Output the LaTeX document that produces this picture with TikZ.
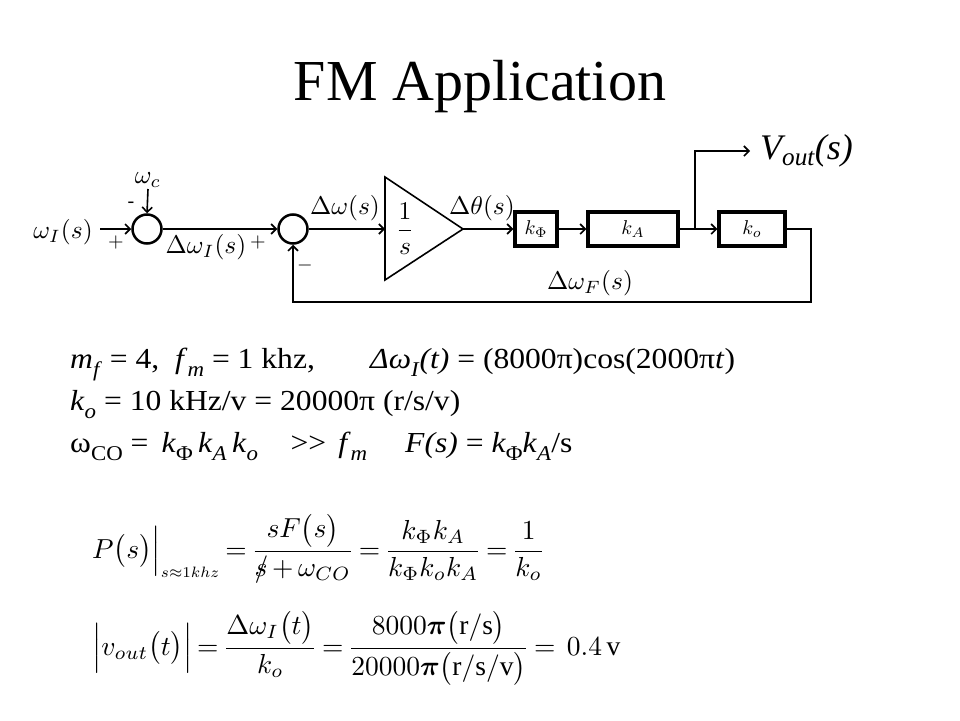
\documentclass[tikz,border=0pt]{standalone}
\usepackage{amsmath}
\usepackage{fontspec}
\setmainfont{Liberation Serif}
\usetikzlibrary{arrows.meta}

\newcommand{\blk}[1]{\scalebox{2.55}{#1}}
\newcommand{\boxlbl}[1]{\scalebox{2.0}{#1}}
\newcommand{\eqbig}[1]{\scalebox{2.75}{\thickmuskip=3mu\medmuskip=3mu #1}}
\newcommand{\wide}[1]{\scalebox{1.09}[1]{#1}}
\newcommand{\bodytxt}{\fontsize{29}{32}\selectfont}
\newcommand{\lowidx}[1]{\raisebox{-0.28em}{\fontsize{21}{22}\selectfont #1}}

\begin{document}
\begin{tikzpicture}[x=1pt,y=-1pt,
    sumnode/.style={draw,circle,line width=2.5pt,minimum size=29pt,inner sep=0pt},
    blockbox/.style={draw,line width=3.5pt,minimum height=34pt,inner sep=0pt},
    link/.style={line width=1.6pt,-{Straight Barb[length=5pt,width=10pt]}},
    lbl/.style={inner sep=1pt},
    textline/.style={anchor=base west,inner sep=0pt,font=\bodytxt}]
  \useasboundingbox (0,0) rectangle (960,720);
  \node[anchor=base,font=\fontsize{58}{60}\selectfont] (title) at (480,100) {FM Application};

  % block diagram
  \node[lbl] (wIlbl) at (63,232) {\blk{$\omega_I(s)$}};
  \coordinate (win) at (100,229);
  \node[sumnode] (sum1) at (147,229) {};
  \node[lbl,anchor=south] (wclbl) at (148,189) {\blk{$\omega_c$}};
  \node[sumnode] (sum2) at (293,229) {};
  \coordinate (intin) at (385,229);
  \coordinate (intout) at (463,229);
  \draw[line width=1.6pt] (385,177) -- (intout) -- (385,280) -- cycle;
  \node[lbl] (integ) at (405,229) {\blk{$\dfrac{1}{s}$}};
  \node[blockbox,minimum width=42pt] (kphi) at (536,229) {\boxlbl{$k_\Phi$}};
  \node[blockbox,minimum width=90pt] (kA) at (633,229) {\boxlbl{$k_A$}};
  \node[blockbox,minimum width=66pt] (ko) at (752,229) {\boxlbl{$k_o$}};
  \coordinate (tap) at (695,229);
  \node[anchor=west,inner sep=0pt,font=\fontsize{36}{38}\selectfont\itshape] (vout) at (760,151) {V\textsubscript{out}(s)};
  \coordinate (fbcorner) at (811,302);

  \draw[link] (win) -- (sum1.west);
  \draw[link] (wclbl.south) -- (sum1.north);
  \draw[link] (sum1.east) -- (sum2.west);
  \draw[link] (sum2.east) -- (intin);
  \draw[link] (intout) -- (kphi.west);
  \draw[link] (kphi.east) -- (kA.west);
  \draw[link] (kA.east) -- (ko.west);
  \draw[link] (tap) |- ([xshift=-10pt]vout.west);
  \draw[link] (ko.east) -| (fbcorner) -| (sum2.south);

  % signs and signal names
  \node[lbl] (minus1) at (131,205) {\boxlbl{-}};
  \node[lbl] (plus1) at (116,242) {\boxlbl{$+$}};
  \node[lbl] (dwIlbl) at (206,247) {\blk{$\Delta\omega_I(s)$}};
  \node[lbl] (plus2) at (258,242) {\boxlbl{$+$}};
  \node[lbl] (minus2) at (305,265) {\boxlbl{$-$}};
  \node[lbl] (dwlbl) at (345,208) {\blk{$\Delta\omega(s)$}};
  \node[lbl] (dthlbl) at (482,208) {\blk{$\Delta\theta(s)$}};
  \node[lbl] (dwFlbl) at (590,283) {\blk{$\Delta\omega_F(s)$}};

  % given values
  \node[textline] (line1) at (70,368) {\wide{\textit{m}\lowidx{\textit{f}} = 4,\ \ \textit{f}\lowidx{\textit{m}} = 1 khz,}};
  \node[textline] (line1b) at (370,368) {\wide{\textit{Δω}\lowidx{\textit{I}}\textit{(t)} = (8000π)cos(2000π\textit{t})}};
  \node[textline] (line2) at (70,410) {\wide{\textit{k}\lowidx{\textit{o}} = 10 kHz/v = 20000π (r/s/v)}};
  \node[textline] (line3) at (70,452) {\wide{ω\lowidx{CO} = \,\textit{k}\lowidx{Φ}\,\textit{k}\lowidx{\textit{A}}\,\textit{k}\lowidx{\textit{o}}\hspace{30pt}>{}>\hspace{11pt}\textit{f}\lowidx{\textit{m}}}};
  \node[textline] (line3b) at (405,452) {\wide{\textit{F(s)} = \textit{k}\lowidx{Φ}\textit{k}\lowidx{\textit{A}}/s}};

  % results
  \node[anchor=base west,inner sep=0pt] (eqP) at (92,558)
    {\eqbig{$\displaystyle P\bigl(s\bigr)\Big|_{\scalebox{0.78}{$\scriptstyle s\approx 1khz$}}=\frac{sF\bigl(s\bigr)}{\rlap{$/$}s+\omega_{CO}}=\frac{k_\Phi k_A}{k_\Phi k_o k_A}=\frac{1}{k_o}$}};
  \node[anchor=base west,inner sep=0pt] (eqV) at (92,655)
    {\eqbig{$\displaystyle \Bigl|v_{out}\bigl(t\bigr)\Bigr|=\frac{\Delta\omega_I\bigl(t\bigr)}{k_o}=\frac{8000\boldsymbol{\pi}\bigl(\mathrm{r/s}\bigr)}{20000\boldsymbol{\pi}\bigl(\mathrm{r/s/v}\bigr)}=\ 0.4\,\mathrm{v}$}};
\end{tikzpicture}
\end{document}
